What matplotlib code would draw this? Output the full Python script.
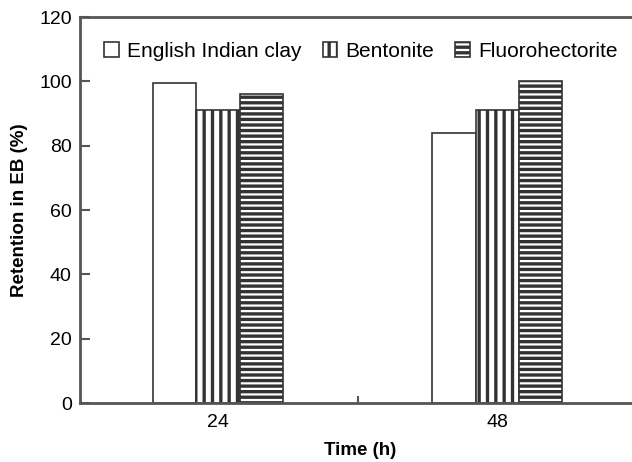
import matplotlib.pyplot as plt
import numpy as np

plt.rcParams['font.family'] = ['Liberation Sans', 'DejaVu Sans']
plt.rcParams['hatch.linewidth'] = 2.4

times = ['24', '48']
series = ['English Indian clay', 'Bentonite', 'Fluorohectorite']
english = [99.5, 84]
bentonite = [91, 91]
fluoro = [96, 100]
hatches = ['', '||', '---']

fig = plt.figure(figsize=(6.32, 4.62), dpi=100)
ax = fig.add_axes([80 / 632, 1 - 403 / 462, 560 / 632, 386 / 462])

x = np.arange(len(times))
w = 0.155
for i, (vals, name, h) in enumerate(zip([english, bentonite, fluoro], series, hatches)):
    ax.bar(x + (i - 1) * w, vals, w, color='white', edgecolor='#333333',
           hatch=h, linewidth=1.2, label=name)

ax.set_xlim(-0.493, 1.51)
ax.set_ylim(0, 120)
ax.set_yticks([0, 20, 40, 60, 80, 100, 120])
ax.set_xticks(x)
ax.set_xticklabels(times)
ax.set_xticks([0.5], minor=True)
ax.tick_params(axis='x', which='major', length=0, labelsize=14, pad=8)
ax.tick_params(axis='x', which='minor', direction='in', length=5, width=1.5, color='#555555')
ax.tick_params(axis='y', direction='in', length=7, width=1.5, color='#555555', labelsize=14, pad=6)
ax.spines['right'].set_visible(False)
for s in ['left', 'bottom', 'top']:
    ax.spines[s].set_color('#555555')
    ax.spines[s].set_linewidth(2)

ax.set_xlabel('Time (h)', fontsize=13.5, fontweight='bold', labelpad=8)
ax.set_ylabel('Retention in EB (%)', fontsize=13.5, fontweight='bold', labelpad=8)

ax.legend(loc='upper left', bbox_to_anchor=(0.01, 0.985), ncol=3, frameon=False,
          fontsize=15, handlelength=0.7, handleheight=0.7, handletextpad=0.4,
          columnspacing=1.0)

fig.savefig('out.png', dpi=100)
